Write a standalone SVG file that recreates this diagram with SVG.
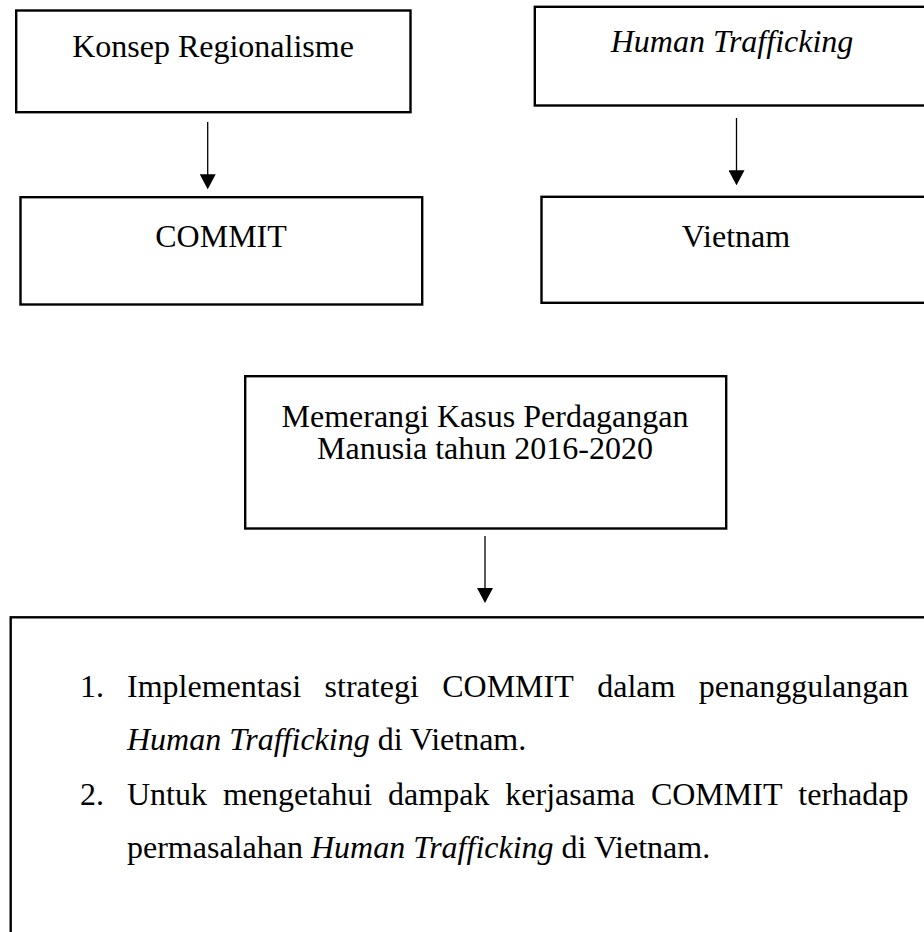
<svg xmlns="http://www.w3.org/2000/svg" width="924" height="932" viewBox="0 0 924 932">
  <style>
    .box { fill: #ffffff; stroke: #000000; stroke-width: 2.4; }
    .t { font-family: "Liberation Serif", "Times New Roman", serif; font-size: 32px; fill: #000000; }
    .c { text-anchor: middle; }
    .i { font-style: italic; }
    .conn { stroke: #000000; stroke-width: 1.3; fill: none; }
  </style>
  <defs>
    <marker id="arrow" viewBox="0 0 15 16" refX="12" refY="8" markerWidth="15" markerHeight="16" markerUnits="userSpaceOnUse" orient="auto">
      <path d="M0,0 L15,8 L0,16 z" fill="#000000"/>
    </marker>
  </defs>
  <rect width="924" height="932" fill="#ffffff"/>

  <g id="node-konsep">
    <rect class="box" x="16.2" y="10.5" width="394.3" height="101.7"/>
    <text class="t c" x="213" y="57">Konsep Regionalisme</text>
  </g>
  <g id="node-commit">
    <rect class="box" x="20.5" y="197.2" width="401.7" height="107.3"/>
    <text class="t c" x="221" y="247">COMMIT</text>
  </g>
  <g id="node-human-trafficking">
    <rect class="box" x="534.8" y="6.8" width="400" height="98.7"/>
    <text class="t c i" x="732" y="52">Human Trafficking</text>
  </g>
  <g id="node-vietnam">
    <rect class="box" x="541.5" y="196.8" width="400" height="106"/>
    <text class="t c" x="736" y="247">Vietnam</text>
  </g>
  <g id="node-memerangi">
    <rect class="box" x="245.2" y="376.2" width="481" height="152.3"/>
    <text class="t c" x="485" y="427">Memerangi Kasus Perdagangan</text>
    <text class="t c" x="485" y="459">Manusia tahun 2016-2020</text>
  </g>
  <g id="node-tujuan">
    <rect class="box" x="10.7" y="617.3" width="930" height="340"/>
    <text class="t" x="80" y="697">1.</text>
    <text class="t" x="127" y="697">Implementasi</text>
    <text class="t" x="324.6" y="697">strategi</text>
    <text class="t" x="442.2" y="697">COMMIT</text>
    <text class="t" x="597.2" y="697">dalam</text>
    <text class="t" x="908.5" y="697" text-anchor="end">penanggulangan</text>
    <text class="t" x="127" y="750"><tspan class="i">Human Trafficking</tspan> di Vietnam.</text>
    <text class="t" x="80" y="805">2.</text>
    <text class="t" x="127" y="805">Untuk</text>
    <text class="t" x="222.9" y="805">mengetahui</text>
    <text class="t" x="388.1" y="805">dampak</text>
    <text class="t" x="505.3" y="805">kerjasama</text>
    <text class="t" x="650.9" y="805">COMMIT</text>
    <text class="t" x="908.5" y="805" text-anchor="end">terhadap</text>
    <text class="t" x="127" y="858">permasalahan <tspan class="i">Human Trafficking</tspan> di Vietnam.</text>
  </g>

  <g id="connectors">
    <line class="conn" x1="207.7" y1="122" x2="207.7" y2="186.3" marker-end="url(#arrow)"/>
    <line class="conn" x1="736.5" y1="118" x2="736.5" y2="182.3" marker-end="url(#arrow)"/>
    <line class="conn" x1="485" y1="536" x2="485" y2="600" marker-end="url(#arrow)"/>
  </g>
</svg>
